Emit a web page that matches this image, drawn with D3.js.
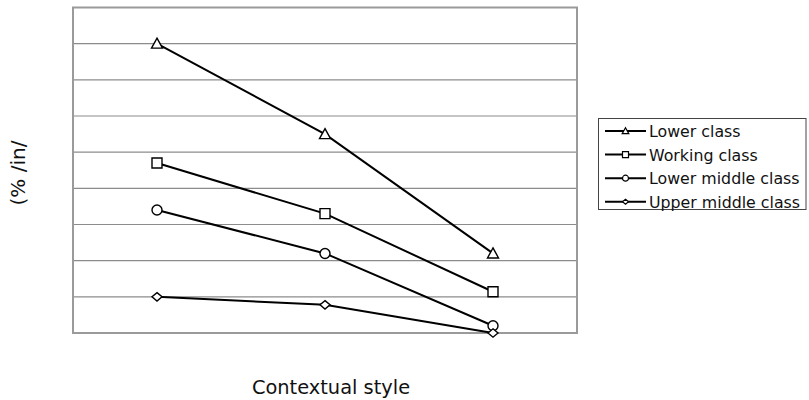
<!DOCTYPE html>
<html><head><meta charset="utf-8">
<script src="https://cdn.jsdelivr.net/npm/d3@7"></script>
<style>body{margin:0;background:#fff}svg{display:block}text{font-family:"DejaVu Sans",Verdana,sans-serif;fill:#111}</style>
</head><body><svg id="c" width="809" height="400"></svg>
<script>
const categories = ["Casual", "Formal", "Word list"];
const seriesNames = ["Lower class", "Working class", "Lower middle class", "Upper middle class"];
const lowerClass = [40, 27.5, 11];
const workingClass = [23.5, 16.5, 5.7];
const lowerMiddleClass = [17, 11, 1];
const upperMiddleClass = [5, 3.9, 0];
const yTicks = [0, 5, 10, 15, 20, 25, 30, 35, 40, 45];
const markers = ["triangle", "square", "circle", "diamond"];
const series = [lowerClass, workingClass, lowerMiddleClass, upperMiddleClass];

const svg = d3.select("#c");
const L = 73, R = 577, T = 7.5, B = 333;
const x = d3.scaleBand().domain(categories).range([L, R]);
const y = d3.scaleLinear().domain([0, 45]).range([B, T]);

svg.append("g").selectAll("line").data(yTicks.slice(1, -1)).join("line")
  .attr("x1", L).attr("x2", R).attr("y1", d => y(d)).attr("y2", d => y(d))
  .attr("stroke", "#8c8c8c").attr("stroke-width", 1.2);
svg.append("rect").attr("x", L).attr("y", T).attr("width", R - L).attr("height", B - T)
  .attr("fill", "none").attr("stroke", "#9a9a9a").attr("stroke-width", 2);

function markerPath(m, s) {
  if (m === "triangle") return `M0,${-s*0.55}L${s*0.55},${s*0.45}L${-s*0.55},${s*0.45}Z`;
  if (m === "square") return `M${-s/2},${-s/2}h${s}v${s}h${-s}Z`;
  if (m === "circle") return `M${s/2},0A${s/2},${s/2} 0 1,1 ${-s/2},0A${s/2},${s/2} 0 1,1 ${s/2},0Z`;
  return `M0,${-s*0.42}L${s/2},0L0,${s*0.42}L${-s/2},0Z`;
}
const line = d3.line().x((d, i) => x(categories[i]) + x.bandwidth() / 2).y(d => y(d));

series.forEach(vals => {
  svg.append("path").datum(vals).attr("d", line).attr("fill", "none")
    .attr("stroke", "#000").attr("stroke-width", 2);
});
series.forEach((vals, s) => {
  const m = markers[s];
  svg.append("g").selectAll("path").data(vals).join("path")
    .attr("transform", (d, i) => `translate(${x(categories[i]) + x.bandwidth() / 2},${y(d)})`)
    .attr("d", markerPath(m, 10))
    .attr("fill", "#fff").attr("stroke", "#000").attr("stroke-width", 1.4);
});

svg.append("text").attr("transform", "translate(25,173) rotate(-90)")
  .attr("text-anchor", "middle").attr("font-size", 20).text("(% /in/");
svg.append("text").attr("x", 331).attr("y", 394)
  .attr("text-anchor", "middle").attr("font-size", 19.4).text("Contextual style");

const lg = svg.append("g");
lg.append("rect").attr("x", 598.5).attr("y", 118.5).attr("width", 207.5).attr("height", 91)
  .attr("fill", "#fff").attr("stroke", "#444").attr("stroke-width", 1);
seriesNames.forEach((n, i) => {
  const yy = 131 + i * 23.6;
  lg.append("line").attr("x1", 605).attr("x2", 646).attr("y1", yy).attr("y2", yy)
    .attr("stroke", "#000").attr("stroke-width", 2);
  lg.append("path").attr("transform", `translate(625.5,${yy})`)
    .attr("d", markerPath(markers[i], 6))
    .attr("fill", "#fff").attr("stroke", "#000").attr("stroke-width", 1.2);
  lg.append("text").attr("x", 649).attr("y", yy + 6).attr("font-size", 15.8).text(n);
});
</script></body></html>
